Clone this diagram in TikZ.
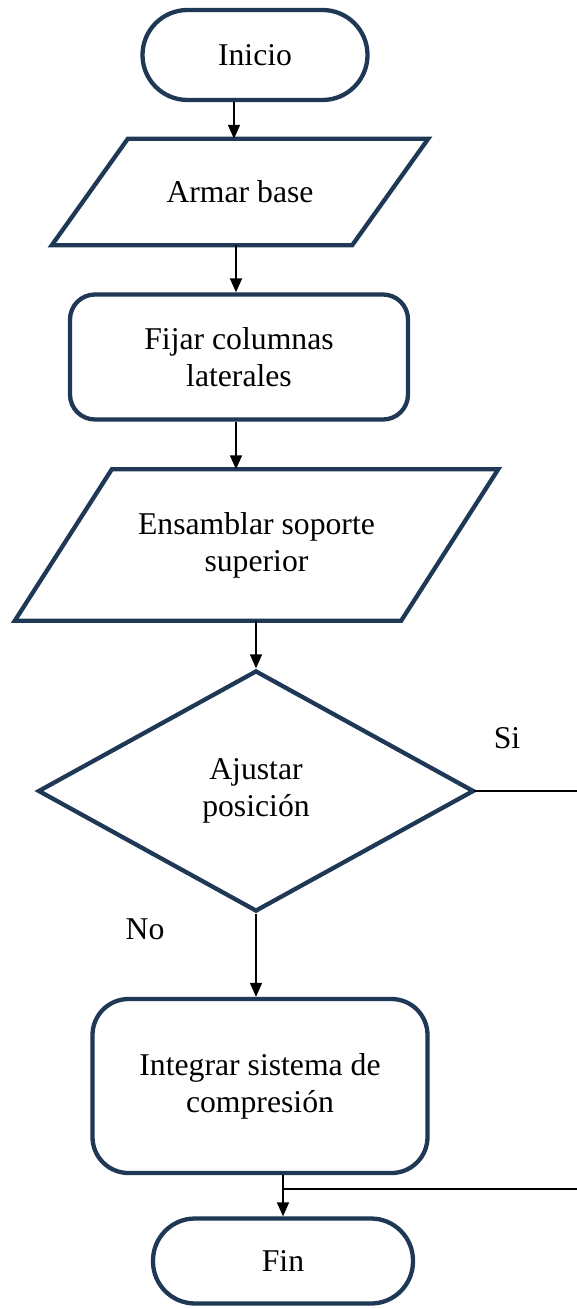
\documentclass[tikz,border=0pt]{standalone}
\usepackage{fontspec}
\setmainfont{Liberation Serif}
\newfontfamily\letra{Liberation Serif}
\usepackage{xcolor}
\usetikzlibrary{shapes.geometric, arrows.meta}

\definecolor{azul}{RGB}{31,56,86}

\tikzset{
	texto/.style={font=\letra\fontsize{31.7}{37}\selectfont},
	borde/.style={draw=azul, line width=4.3pt, line join=miter},
	caja/.style={borde, fill=white, align=center, inner sep=4pt, texto},
	terminal/.style={caja, rectangle, rounded corners=#1},
	proceso/.style={caja, rectangle, rounded corners=#1},
	datos/.style={rectangle, align=center, inner sep=4pt, texto},
	decision/.style={caja, diamond, aspect=1.8},
	flecha/.style={-{Triangle[length=14pt, width=12pt]}, line width=1.5pt},
	linea/.style={line width=1.5pt}
}

\begin{document}
\begin{tikzpicture}[x=1pt, y=-1pt]
	\useasboundingbox (0,0) rectangle (577,1309);
	
	\node[terminal=45pt, minimum width=225pt, minimum height=90pt] (inicio) at (255,55) {Inicio};
	\node[datos, minimum width=300pt, minimum height=106pt] (armar) at (240,192) {Armar base};
	\node[proceso=25pt, minimum width=338pt, minimum height=125pt] (fijar) at (239,357) {Fijar columnas\\laterales};
	\node[datos, minimum width=386pt, minimum height=151pt] (ensamblar) at (256.5,545) {Ensamblar soporte\\superior};
	\node[decision, minimum width=436pt, minimum height=241pt] (ajustar) at (256,791) {Ajustar\\posición};
	\node[proceso=36pt, minimum width=335pt, minimum height=174pt] (integrar) at (260,1086) {Integrar sistema de\\compresión};
	\node[terminal=42pt, minimum width=260pt, minimum height=85pt] (fin) at (283,1261) {Fin};
	
	% paralelogramos de entrada
	\foreach \n/\o in {armar/38, ensamblar/48.5} {
		\draw[borde] ([xshift=\o pt]\n.north west) -- ([xshift=\o pt]\n.north east)
			-- ([xshift=-\o pt]\n.south east) -- ([xshift=-\o pt]\n.south west) -- cycle;
	};
	
	\node[texto] (si) at (507,738) {Si};
	\node[texto] (no) at (145,929) {No};
	\coordinate (salida) at (577,791);
	\coordinate (retorno) at (577,1189);
	
	\foreach \a/\b/\d in {inicio/armar/-21, armar/fijar/-4, fijar/ensamblar/-3} {
		\draw[flecha] ([xshift=\d pt]\a.south) -- ([xshift=\d pt]\a.south |- \b.north);
	};
	
	\draw[flecha] (ensamblar.south -| ajustar.north) -- (ajustar.north);
	\draw[flecha] (ajustar.south) -- (ajustar.south |- integrar.north);
	\draw[flecha] (integrar.south -| fin.north) -- (fin.north);
	
	\draw[linea] ([xshift=-2pt]ajustar.east) -- (salida);
	\draw[linea] (retorno) -- (retorno -| fin.north);
\end{tikzpicture}
\end{document}
